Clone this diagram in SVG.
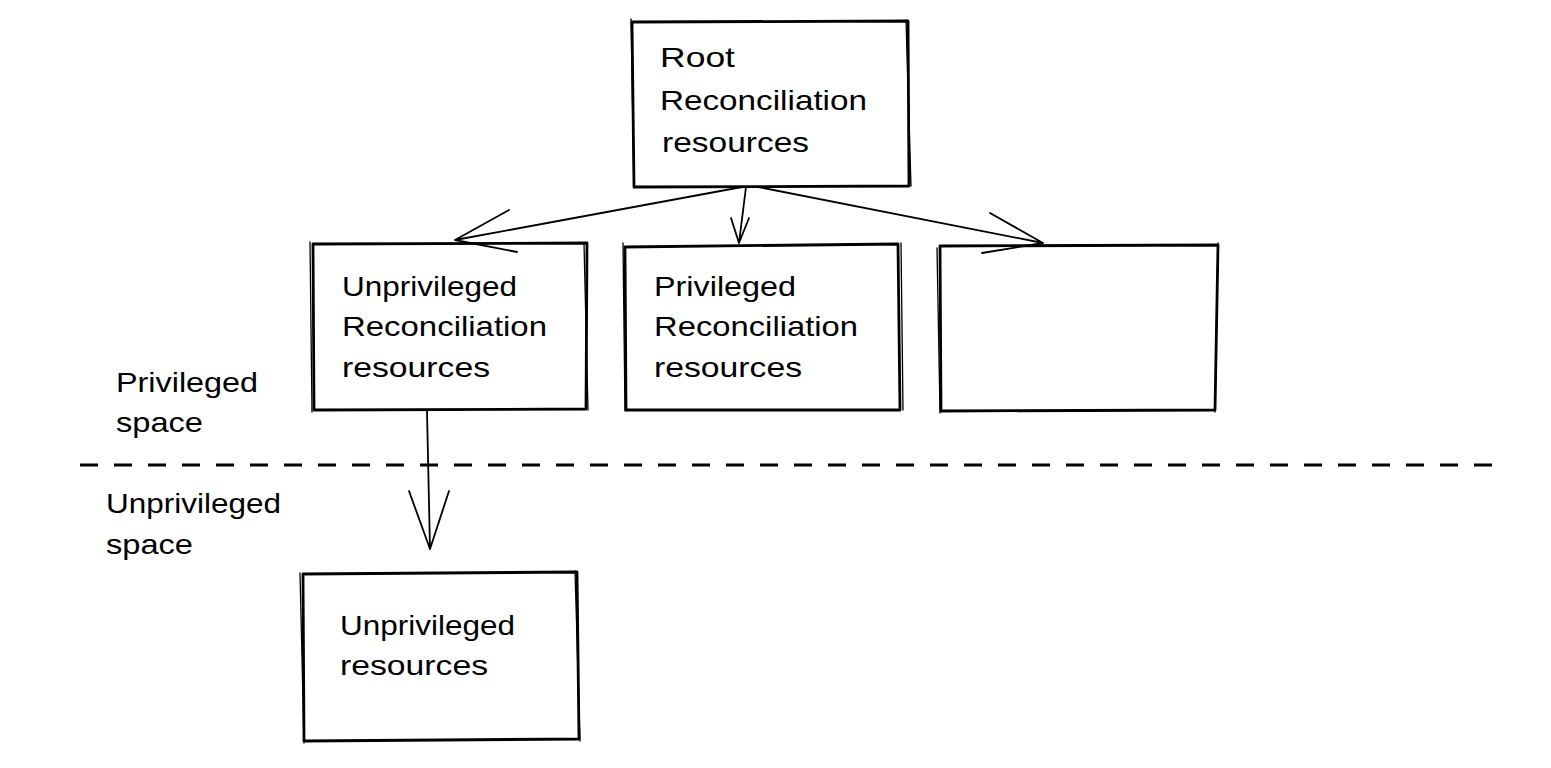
<svg xmlns="http://www.w3.org/2000/svg" width="1551" height="768" viewBox="0 0 1551 768">
<style>
.box{fill:none;stroke:#000;stroke-width:2.8;stroke-linecap:round;stroke-linejoin:round}
.box2{fill:none;stroke:#000;stroke-width:1.3;stroke-linecap:round}
.edge{fill:none;stroke:#000;stroke-width:1.8;stroke-linecap:round;stroke-linejoin:round}
.dash{fill:none;stroke:#000;stroke-width:3;stroke-dasharray:18 16}
text{font-family:"Liberation Sans","DejaVu Sans",sans-serif;font-size:28px;fill:#000}
</style>
<rect width="1551" height="768" fill="#ffffff"/>
<g id="root">
<path class="box" d="M632 22 L908 21 L909 186 L634 187 Z"/>
<path class="box2" d="M631 19 L634 188 M906 20 L911 186"/>
<text x="660" y="67" textLength="75" lengthAdjust="spacingAndGlyphs">Root</text>
<text x="660" y="110" textLength="207" lengthAdjust="spacingAndGlyphs">Reconciliation</text>
<text x="662" y="152" textLength="147" lengthAdjust="spacingAndGlyphs">resources</text>
</g>
<g id="unpriv-recon">
<path class="box" d="M313 244 L587 243 L586 409 L314 410 Z"/>
<path class="box2" d="M310 242 L312 412 M584 243 L588 410"/>
<text x="342" y="296" textLength="175" lengthAdjust="spacingAndGlyphs">Unprivileged</text>
<text x="342" y="336" textLength="205" lengthAdjust="spacingAndGlyphs">Reconciliation</text>
<text x="342" y="377" textLength="148" lengthAdjust="spacingAndGlyphs">resources</text>
</g>
<g id="priv-recon">
<path class="box" d="M625 247 L898 244 L900 410 L626 410 Z"/>
<path class="box2" d="M623 243 L625 411 M901 243 L903 410"/>
<text x="654" y="296" textLength="142" lengthAdjust="spacingAndGlyphs">Privileged</text>
<text x="654" y="336" textLength="204" lengthAdjust="spacingAndGlyphs">Reconciliation</text>
<text x="654" y="377" textLength="148" lengthAdjust="spacingAndGlyphs">resources</text>
</g>
<g id="empty">
<path class="box" d="M940 246 L1218 245 L1215 410 L941 411 Z"/>
<path class="box2" d="M937 248 L940 413 M1218 243 L1215 412"/>
</g>
<g id="unpriv-res">
<path class="box" d="M303 574 L577 572 L579 739 L304 741 Z"/>
<path class="box2" d="M300 573 L304 743 M575 571 L580 741"/>
<text x="340" y="635" textLength="175" lengthAdjust="spacingAndGlyphs">Unprivileged</text>
<text x="340" y="675" textLength="148" lengthAdjust="spacingAndGlyphs">resources</text>
</g>
<g id="labels">
<text x="116" y="392" textLength="142" lengthAdjust="spacingAndGlyphs">Privileged</text>
<text x="116" y="432" textLength="87" lengthAdjust="spacingAndGlyphs">space</text>
<text x="106" y="513" textLength="175" lengthAdjust="spacingAndGlyphs">Unprivileged</text>
<text x="106" y="554" textLength="87" lengthAdjust="spacingAndGlyphs">space</text>
</g>
<g id="connectors">
<path class="dash" d="M80 465 L1492 465"/>
<path class="edge" d="M742 187 L455 240 M509 210 L455 240 L517 252"/>
<path class="edge" d="M746 187 L739 243 M731 218 L739 243 L749 218"/>
<path class="edge" d="M758 187 L1043 243 M990 213 L1043 243 L982 253"/>
<path class="edge" d="M427 411 L430 549 M409 491 L430 549 L449 491"/>
</g>
</svg>
